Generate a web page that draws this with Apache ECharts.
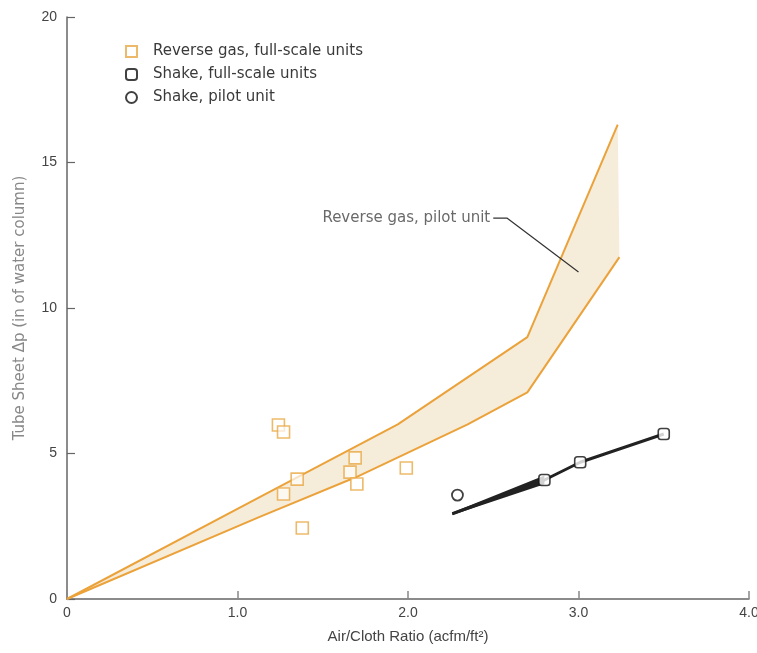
<!DOCTYPE html>
<html>
<head>
<meta charset="utf-8">
<script src="https://cdn.jsdelivr.net/npm/echarts@6/dist/echarts.min.js"></script>
<style>
  html, body { margin: 0; padding: 0; background: #fff; }
  #chart { width: 757px; height: 653px; }
</style>
</head>
<body>
<div id="chart"></div>
<script>
// axis ticks
var xTicks = [0, 1, 2, 3, 4];
var yTicks = [0, 5, 10, 15, 20];

// reverse gas, pilot unit band (upper / lower edge)
var bandUpper = [[0, 0], [1.13, 3.5], [1.94, 6.0], [2.7, 9.0], [3.23, 16.3]];
var bandLower = [[0, 0], [1.13, 2.82], [1.7, 4.2], [2.35, 6.0], [2.7, 7.1], [3.24, 11.75]];

// reverse gas, full-scale units
var rgFull = [
  [1.24, 5.98], [1.27, 5.74], [1.35, 4.12], [1.27, 3.61], [1.38, 2.44],
  [1.69, 4.85], [1.66, 4.36], [1.70, 3.95], [1.99, 4.50]
];

// shake, full-scale units
var shakeFull = [[2.80, 4.09], [3.01, 4.70], [3.50, 5.67]];
// shake, pilot unit
var shakePilot = [[2.29, 3.57]];

// shake trend line + thickened wedge
var shakeLine = [[2.26, 2.93], [2.80, 4.09], [3.01, 4.70], [3.50, 5.67]];
var wedgeTop = [[2.26, 2.97], [2.80, 4.24]];
var wedgeBottom = [[2.26, 2.89], [2.80, 3.94]];

// leader line for the annotation
var leader = [[2.50, 13.09], [2.58, 13.09], [3.0, 11.24]];
var leaderText = "Reverse gas, pilot unit";

var orange = "#eba23a";
var ink = "#222";
var font = "Liberation Sans, Arial, sans-serif";
var wideFont = "DejaVu Sans, Verdana, sans-serif";

function polygonRender(upper, lower, fill) {
  return function (params, api) {
    if (params.dataIndex !== 0) return;
    var pts = upper.map(function (p) { return api.coord(p); })
      .concat(lower.slice().reverse().map(function (p) { return api.coord(p); }));
    return { type: "polygon", shape: { points: pts }, style: { fill: fill } };
  };
}

var chart = echarts.init(document.getElementById("chart"), null, { renderer: "canvas" });

chart.setOption({
  animation: false,
  backgroundColor: "#fff",
  textStyle: { fontFamily: font },
  grid: { left: 67, right: 8, top: 17, bottom: 54, containLabel: false, outerBoundsMode: "none" },
  legend: {
    orient: "vertical",
    left: 120,
    top: 39,
    itemWidth: 11,
    itemHeight: 11,
    itemGap: 8,
    textStyle: { fontSize: 15, color: "#3a3a3a", fontFamily: wideFont, padding: [0, 0, 0, 11] },
    data: ["Reverse gas, full-scale units", "Shake, full-scale units", "Shake, pilot unit"]
  },
  xAxis: {
    type: "value",
    min: xTicks[0],
    max: xTicks[xTicks.length - 1],
    interval: 1,
    name: "Air/Cloth Ratio (acfm/ft²)",
    nameLocation: "middle",
    nameGap: 30,
    nameTextStyle: { fontSize: 15, color: "#444", fontFamily: font },
    axisLine: { lineStyle: { color: "#666", width: 1.5 } },
    axisTick: { inside: true, length: 8, lineStyle: { color: "#888", width: 1.5 } },
    axisLabel: {
      fontSize: 14, color: "#444", margin: 7,
      formatter: function (v) { return v === 0 ? "0" : v.toFixed(1); }
    },
    splitLine: { show: false }
  },
  yAxis: {
    type: "value",
    min: yTicks[0],
    max: yTicks[yTicks.length - 1],
    interval: 5,
    name: "Tube Sheet Δp (in of water column)",
    nameLocation: "middle",
    nameGap: 39,
    nameTextStyle: { fontSize: 15, color: "#888", fontFamily: wideFont },
    axisLine: { lineStyle: { color: "#666", width: 1.5 } },
    axisTick: { inside: true, length: 8, lineStyle: { color: "#666", width: 1.2 } },
    axisLabel: { fontSize: 14, color: "#444", margin: 10 },
    splitLine: { show: false }
  },
  series: [
    {
      name: "band",
      type: "custom",
      renderItem: polygonRender(bandUpper, bandLower, "#f6ecda"),
      data: [[0, 0]],
      z: 1,
      silent: true
    },
    {
      name: "bandUpper",
      type: "line",
      data: bandUpper,
      symbol: "none",
      lineStyle: { color: orange, width: 2 },
      z: 2
    },
    {
      name: "bandLower",
      type: "line",
      data: bandLower,
      symbol: "none",
      lineStyle: { color: orange, width: 2 },
      z: 2
    },
    {
      name: "Reverse gas, full-scale units",
      type: "scatter",
      data: rgFull,
      symbol: "rect",
      symbolSize: 12,
      itemStyle: { color: "rgba(255,255,255,0.85)", borderColor: "#e8a845", borderWidth: 1.6 },
      z: 3
    },
    {
      name: "wedge",
      type: "custom",
      renderItem: polygonRender(wedgeTop, wedgeBottom, ink),
      data: [[2.26, 2.93]],
      z: 4,
      silent: true
    },
    {
      name: "shakeLine",
      type: "line",
      data: shakeLine,
      symbol: "none",
      lineStyle: { color: ink, width: 3 },
      z: 4
    },
    {
      name: "Shake, full-scale units",
      type: "scatter",
      data: shakeFull,
      symbol: "roundRect",
      symbolSize: 11,
      itemStyle: { color: "#fff", borderColor: "#111", borderWidth: 1.6 },
      z: 5
    },
    {
      name: "Shake, pilot unit",
      type: "scatter",
      data: shakePilot,
      symbol: "circle",
      symbolSize: 11,
      itemStyle: { color: "#fff", borderColor: "#111", borderWidth: 1.8 },
      z: 5
    },
    {
      name: "leader",
      type: "line",
      data: leader,
      symbol: "none",
      lineStyle: { color: "#333", width: 1.2 },
      z: 6
    },
    {
      name: "leaderLabel",
      type: "scatter",
      data: [leader[0]],
      symbolSize: 0,
      silent: true,
      label: {
        show: true, position: "left", distance: 3,
        formatter: leaderText, fontSize: 15, color: "#444", fontFamily: wideFont
      },
      z: 6
    }
  ]
});
</script>
</body>
</html>
